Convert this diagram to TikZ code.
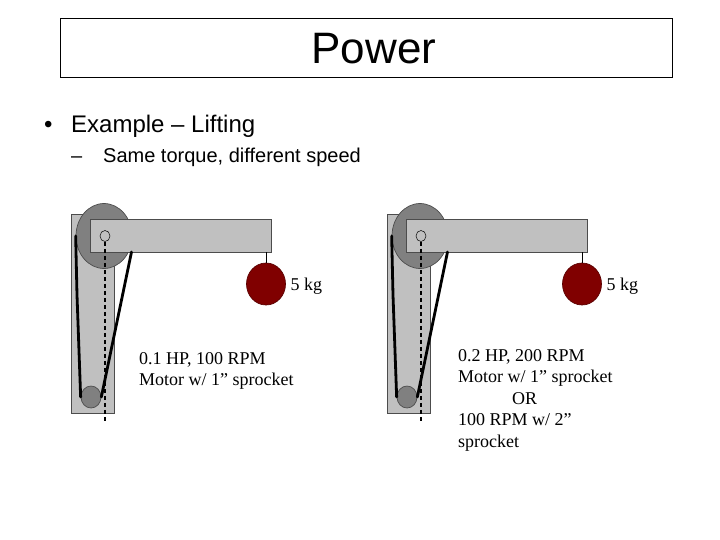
\documentclass[tikz,border=0pt]{standalone}
\usepackage{fontspec}
\setmainfont{Liberation Serif}
\newfontfamily\slidefont{Liberation Sans}
\usetikzlibrary{shapes.geometric,positioning}
\definecolor{palegrey}{HTML}{C0C0C0}
\definecolor{midgrey}{HTML}{808080}
\definecolor{darkred}{HTML}{800000}
\tikzset{
  partbox/.style={draw=black!70,fill=palegrey,line width=0.7pt,inner sep=0pt},
  disc/.style={ellipse,draw=black!70,fill=midgrey,line width=0.7pt,inner sep=0pt},
  belt/.style={line width=2.8pt,black,line cap=round},
  slidetext/.style={font=\slidefont,inner sep=0pt,anchor=base west},
  note/.style={font=\fontsize{18}{21.5}\selectfont,align=left,inner sep=0pt,anchor=north west}
}
\begin{document}
\begin{tikzpicture}[x=1pt,y=-1pt]
  \useasboundingbox[fill=white] (0,0) rectangle (720,540);
  \node[draw=black,line width=0.7pt,minimum width=612pt,minimum height=59pt,inner sep=0pt] (titlebox) at (366.5,47.5) {};
  \node[font=\slidefont\fontsize{44}{48}\selectfont,inner sep=0pt] (title) at (374,49) {Power};
  \node[slidetext,font=\slidefont\fontsize{24}{28}\selectfont] (bulletdot) at (44,133) {\textbullet};
  \node[slidetext,font=\slidefont\fontsize{24}{28}\selectfont] (example) at (71,133) {Example – Lifting};
  \node[slidetext,font=\slidefont\fontsize{20}{24}\selectfont] (subdash) at (71,163) {–};
  \node[slidetext,font=\slidefont\fontsize{20}{24}\selectfont] (subtext) at (103,163) {Same torque, different speed};
  \foreach \side/\dx in {a/0,b/316} {
    \begin{scope}[xshift=\dx pt]
      \node[partbox,minimum width=43pt,minimum height=199pt] (column\side) at (93,313.5) {};
      \node[disc,minimum width=56pt,minimum height=65pt] (wheel\side) at (104,236) {};
      \node[partbox,minimum width=181pt,minimum height=33pt] (arm\side) at (180.5,235.5) {};
      \node[disc,fill=palegrey,draw=black,line width=0.5pt,minimum width=10pt,minimum height=11pt] (pin\side) at (105,236) {};
      \node[disc,minimum width=20pt,minimum height=22pt] (sprocket\side) at (91,397) {};
      \node[disc,fill=darkred,draw=darkred!70!black,minimum width=39pt,minimum height=42pt] (weight\side) at (266,284) {};
      \node[inner sep=0pt,font=\fontsize{18}{20}\selectfont,right=4.5pt of weight\side,yshift=-2pt] (mass\side) {5 kg};
      \draw[line width=0.6pt] (weight\side.north) -- (weight\side.north |- arm\side.south);
      \coordinate (beltbend\side) at (77,295);
      \coordinate (armcorner\side) at (131.5,252);
      \coordinate (dashend\side) at (105,422);
      \draw[belt] (wheel\side.west) -- (beltbend\side) -- (sprocket\side.west);
      \draw[belt] (armcorner\side) -- (sprocket\side.east);
      \draw[line width=1.2pt,dashed,dash pattern=on 4pt off 3pt] (pin\side.south) -- (dashend\side);
    \end{scope}
  }
  \node[note] (noteleft) at (139,352) {0.1 HP, 100 RPM\\Motor w/ 1” sprocket};
  \node[note] (noteright) at (458,349) {0.2 HP, 200 RPM\\Motor w/ 1” sprocket\\\hspace*{54pt}OR\\100 RPM w/ 2”\\sprocket};
\end{tikzpicture}
\end{document}
